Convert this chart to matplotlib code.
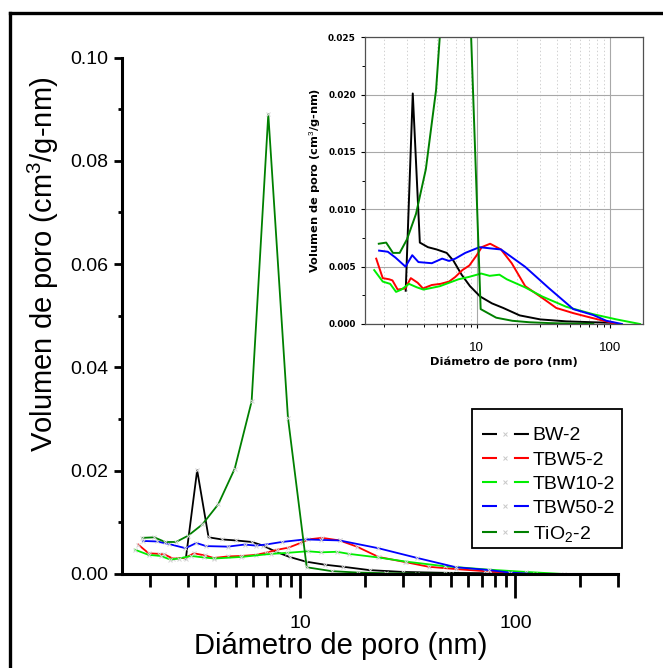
import matplotlib
matplotlib.use("Agg")
import matplotlib.pyplot as plt
from matplotlib.lines import Line2D
from matplotlib.patches import Rectangle
from matplotlib.ticker import FixedLocator, NullFormatter, FixedFormatter, MultipleLocator, FormatStrFormatter

plt.rcParams['font.family'] = ['Liberation Sans', 'DejaVu Sans']
plt.rcParams['mathtext.fontset'] = 'custom'
plt.rcParams['mathtext.rm'] = 'Liberation Sans'
plt.rcParams['mathtext.it'] = 'Liberation Sans:italic'
plt.rcParams['mathtext.bf'] = 'Liberation Sans:bold'
plt.rcParams['lines.scale_dashes'] = False

# Pore size distributions (BJH): pore diameter (nm) vs pore volume (cm3/g-nm)
bw2_d = [2.93, 3.31, 3.74, 4.3, 5.0, 5.95, 6.7, 7.7, 8.9, 10.6, 13.0, 15.8, 21, 30, 47, 75, 106]
bw2_v = [0.0029, 0.0201, 0.0071, 0.0067, 0.0065, 0.0062, 0.0055, 0.0043, 0.0033, 0.0024,
         0.0018, 0.0014, 0.00075, 0.0004, 0.00023, 0.00015, 0.0001]

tbw5_d = [1.76, 1.97, 2.2, 2.33, 2.55, 2.9, 3.2, 3.6, 3.95, 4.6, 5.35, 6.2, 6.9, 7.8, 8.8,
          10.0, 10.9, 12.6, 15.2, 18.3, 23.1, 30.8, 39.5, 53, 72, 90, 112]
tbw5_v = [0.0057, 0.0040, 0.0039, 0.0038, 0.0030, 0.0031, 0.0040, 0.0036, 0.0031, 0.0034,
          0.0035, 0.0037, 0.0041, 0.0047, 0.0051, 0.0060, 0.0067, 0.0070, 0.0065, 0.0053,
          0.0033, 0.0023, 0.0014, 0.00095, 0.00055, 0.00028, 0.0]

tbw10_d = [1.70, 1.97, 2.24, 2.48, 2.72, 3.1, 3.55, 3.98, 5.3, 7.3, 8.7, 10.8, 12.5, 14.8,
           16.8, 23, 31, 47, 75, 112, 168]
tbw10_v = [0.0047, 0.0037, 0.0035, 0.0028, 0.0030, 0.0035, 0.0032, 0.0030, 0.0033, 0.0039,
           0.0041, 0.0044, 0.0042, 0.0043, 0.0039, 0.0032, 0.0024, 0.0015, 0.00085, 0.0004, 0.0]

tbw50_d = [1.85, 2.15, 2.45, 2.92, 3.28, 3.65, 4.6, 5.5, 6.2, 6.9, 8.2, 10.5, 12.5, 15.2,
           23, 35, 53, 75, 94, 123]
tbw50_v = [0.0064, 0.0063, 0.0058, 0.0050, 0.0060, 0.0054, 0.0053, 0.0057, 0.0055, 0.0057,
           0.0062, 0.0067, 0.0066, 0.0065, 0.0050, 0.0031, 0.0013, 0.00078, 0.00028, 0.0]

tio2_d = [1.84, 2.09, 2.35, 2.64, 3.0, 3.5, 4.15, 4.95, 5.93, 7.09, 8.75, 10.7, 14.0, 18.5,
          25, 35, 50, 75]
tio2_v = [0.0070, 0.0071, 0.0062, 0.0062, 0.0074, 0.0096, 0.0135, 0.0204, 0.0334, 0.0890,
          0.0303, 0.0013, 0.00055, 0.00028, 0.00015, 0.00008, 0.00004, 0.00002]

labels = ['BW-2', 'TBW5-2', 'TBW10-2', 'TBW50-2', 'TiO$_2$-2']
colors = ['#000000', '#ff0000', '#00ee00', '#0000ff', '#008000']
diams = [bw2_d, tbw5_d, tbw10_d, tbw50_d, tio2_d]
vols = [bw2_v, tbw5_v, tbw10_v, tbw50_v, tio2_v]

main_xticks = [10, 100]
main_xminor = [2, 3, 4, 5, 6, 7, 8, 9, 20, 30, 40, 50, 60, 70, 80, 90, 200, 300]
main_yticks = [0.00, 0.02, 0.04, 0.06, 0.08, 0.10]

W, H = 663, 668
fig = plt.figure(figsize=(W / 100, H / 100), dpi=100)

# outer frame
fig.add_artist(Line2D([10 / W, 10 / W], [0, 1 - 13 / H], transform=fig.transFigure,
                      color='black', lw=2.4, solid_capstyle='projecting'))
fig.add_artist(Line2D([10 / W, 1], [1 - 13 / H, 1 - 13 / H], transform=fig.transFigure,
                      color='black', lw=2.4, solid_capstyle='projecting'))

# ---- main axes ----
ax = fig.add_axes([122 / W, 1 - 574 / H, 496 / W, 516.5 / H])
for lab, c, d, v in zip(labels, colors, diams, vols):
    ax.plot(d, v, color=c, lw=1.3, marker='x', ms=3, mec='#d4d4d4', mew=0.7, label=lab)

ax.set_xscale('log')
ax.set_xlim(1.48, 300)
ax.set_ylim(0, 0.10)
for s in ('top', 'right'):
    ax.spines[s].set_visible(False)
for s in ('left', 'bottom'):
    ax.spines[s].set_linewidth(2.2)

ax.xaxis.set_major_locator(FixedLocator(main_xticks))
ax.xaxis.set_major_formatter(FixedFormatter([str(t) for t in main_xticks]))
ax.xaxis.set_minor_locator(FixedLocator(main_xminor))
ax.xaxis.set_minor_formatter(NullFormatter())
ax.yaxis.set_major_locator(FixedLocator(main_yticks))
ax.yaxis.set_major_formatter(FormatStrFormatter('%.2f'))
ax.yaxis.set_minor_locator(MultipleLocator(0.01))

ax.tick_params(axis='x', which='major', direction='out', length=17, width=2.0,
               labelsize=14, pad=12.5)
ax.tick_params(axis='x', which='minor', direction='out', length=9.5, width=2.0)
ax.tick_params(axis='y', which='major', direction='out', length=5.8, width=2.0,
               labelsize=14, pad=4)
ax.tick_params(axis='y', which='minor', direction='out', length=3.2, width=2.0)

ax.set_ylabel('Volumen de poro (cm$^3$/g-nm)', fontsize=21, va='center')
ax.yaxis.set_label_coords(-0.158, 0.60)
ax.set_xlabel('Diámetro de poro (nm)', fontsize=21, va='center')
ax.xaxis.set_label_coords(0.441, -0.14)

# ---- legend ----
fig.add_artist(Rectangle((472 / W, 1 - 548 / H), 150 / W, 139 / H, transform=fig.transFigure,
                         fill=False, edgecolor='black', lw=1.3))
handles = [Line2D([], [], color=c, lw=1.5, linestyle=(0, (10.8, 12.2)), marker='x', ms=3,
                  mec='#c8c8c8', mew=0.7) for c in colors]
leg = fig.legend(handles, labels, loc='upper left', bbox_to_anchor=(474 / W, 1 - 419 / H),
                 frameon=False, fontsize=14, handlelength=2.41, handletextpad=0.2,
                 labelspacing=0.34, borderpad=0.4, numpoints=1, borderaxespad=0)

# ---- inset ----
axin = fig.add_axes([365 / W, 1 - 324 / H, 277.7 / W, 286.7 / H])
for c, d, v in zip(colors, diams, vols):
    axin.plot(d, v, color=c, lw=1.4)
axin.set_xscale('log')
axin.set_xlim(1.45, 176)
axin.set_ylim(0, 0.025)
axin.xaxis.set_major_locator(FixedLocator(main_xticks))
axin.xaxis.set_major_formatter(FixedFormatter([str(t) for t in main_xticks]))
axin.xaxis.set_minor_locator(FixedLocator(main_xminor))
axin.xaxis.set_minor_formatter(NullFormatter())
axin.yaxis.set_major_locator(MultipleLocator(0.005))
axin.yaxis.set_major_formatter(FormatStrFormatter('%.3f'))
axin.yaxis.set_minor_locator(MultipleLocator(0.0025))
axin.set_axisbelow(True)
axin.grid(which='major', color='#a8a8a8', lw=0.8)
axin.grid(which='minor', axis='x', color='#d0d0d0', lw=0.7, ls=':')
for s in axin.spines.values():
    s.set_linewidth(0.9)
    s.set_color('#505050')
axin.tick_params(axis='both', which='major', direction='out', length=3, width=0.8)
axin.tick_params(axis='both', which='minor', direction='out', length=2, width=0.7)
axin.tick_params(axis='x', labelsize=9.5, pad=10)
for t in axin.get_yticklabels():
    t.set_fontfamily('DejaVu Sans')
    t.set_fontweight('bold')
    t.set_fontsize(6.4)
axin.set_ylabel('Volumen de poro (cm$^3$/g-nm)', fontsize=8.2, fontweight='bold',
                family='DejaVu Sans', va='center')
axin.yaxis.set_label_coords(-0.18, 0.5)
axin.set_xlabel('Diámetro de poro (nm)', fontsize=8.2, fontweight='bold',
                family='DejaVu Sans', va='center')
axin.xaxis.set_label_coords(0.5, -0.132)

fig.savefig('out.png', dpi=100)
